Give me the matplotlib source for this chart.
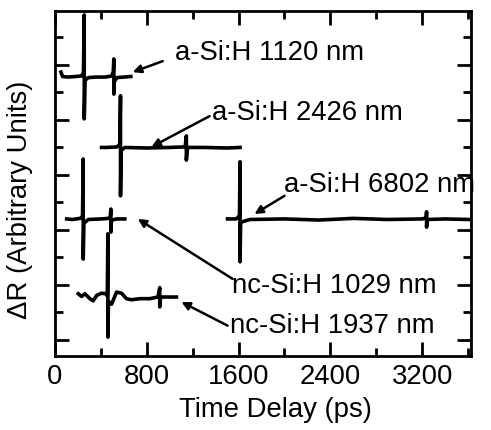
import numpy as np
import matplotlib
matplotlib.use('Agg')
import matplotlib.pyplot as plt
from matplotlib.ticker import MultipleLocator, NullFormatter

# ── traces (time in ps, offset dR in arbitrary units) ──
t_a1120 = [52, 66, 110, 180, 230, 248, 255, 255, 262, 290, 360, 440, 495, 508, 513, 513, 518, 540, 600, 661]
r_a1120 = [5.87, 5.79, 5.78, 5.79, 5.80, 5.86, 6.91, 5.02, 5.72, 5.77, 5.78, 5.78, 5.80, 5.88, 6.11, 5.47, 5.70, 5.77, 5.78, 5.79]

t_a2426 = [406, 450, 540, 565, 571, 571, 577, 610, 800, 1000, 1135, 1145, 1145, 1155, 1300, 1500, 1613]
r_a2426 = [4.50, 4.50, 4.51, 4.56, 5.44, 3.62, 4.45, 4.50, 4.49, 4.50, 4.51, 4.71, 4.27, 4.50, 4.50, 4.49, 4.50]

t_nc1029 = [102, 150, 220, 240, 246, 246, 252, 290, 400, 470, 482, 487, 487, 492, 540, 609]
r_nc1029 = [3.20, 3.19, 3.21, 3.25, 4.29, 2.47, 3.12, 3.19, 3.20, 3.21, 3.25, 3.38, 2.96, 3.18, 3.20, 3.20]

t_a6802 = [1504, 1580, 1608, 1613, 1613, 1618, 1700, 2000, 2300, 2600, 2900, 3200, 3235, 3239, 3239, 3243, 3400, 3609]
r_a6802 = [3.20, 3.20, 3.26, 4.24, 2.42, 3.14, 3.19, 3.20, 3.18, 3.21, 3.19, 3.20, 3.22, 3.33, 3.05, 3.19, 3.20, 3.19]

t_nc1937 = [203, 232, 261, 304, 333, 363, 406, 443, 456, 461, 461, 466, 493, 537, 580, 623, 667, 739, 826, 898, 913, 913, 920, 971, 1058]
r_nc1937 = [1.84, 1.79, 1.84, 1.75, 1.71, 1.81, 1.85, 1.84, 1.80, 2.93, 1.05, 1.70, 1.65, 1.87, 1.85, 1.75, 1.73, 1.75, 1.75, 1.78, 1.95, 1.60, 1.78, 1.78, 1.78]

# labels: text anchor, arrow tail, arrow head
labels   = ['a-Si:H 1120 nm', 'a-Si:H 2426 nm', 'a-Si:H 6802 nm', 'nc-Si:H 1029 nm', 'nc-Si:H 1937 nm']
text_xy  = [(1043, 6.24), (1365, 5.15), (2000, 3.84), (1539, 2.00), (1522, 1.27)]
tail_xy  = [(939, 6.07), (1348, 5.07), (2000, 3.62), (1548, 2.11), (1504, 1.26)]
head_xy  = [(678, 5.87), (841, 4.51), (1739, 3.29), (722, 3.20), (1102, 1.69)]

plt.rcParams.update({'font.family': 'Liberation Sans', 'font.size': 19.8})

fig = plt.figure(figsize=(4.91, 4.31), dpi=100)
ax = fig.add_axes([0.112, 0.172, 0.847, 0.800])

for t, r in [(t_a1120, r_a1120), (t_a2426, r_a2426), (t_nc1029, r_nc1029),
             (t_a6802, r_a6802), (t_nc1937, r_nc1937)]:
    ax.plot(t, r, 'k-', lw=2.6, solid_joinstyle='round')

for lbl, txy, tl, hd in zip(labels, text_xy, tail_xy, head_xy):
    ax.text(txy[0], txy[1], lbl, ha='left', va='center')
    ax.annotate('', xy=hd, xytext=tl,
                arrowprops=dict(arrowstyle='-|>', color='k', lw=1.8,
                                mutation_scale=12, shrinkA=0, shrinkB=0))

ax.set_xlim(0, 3625)
ax.set_ylim(0.71, 6.98)
ax.xaxis.set_major_locator(MultipleLocator(800))
ax.xaxis.set_minor_locator(MultipleLocator(400))
ax.yaxis.set_major_locator(MultipleLocator(1))
ax.yaxis.set_minor_locator(MultipleLocator(0.5))
ax.yaxis.set_major_formatter(NullFormatter())
ax.tick_params(which='both', direction='in', top=True, right=True, width=2)
ax.tick_params(which='major', length=10)
ax.tick_params(which='minor', length=5.5)
ax.tick_params(axis='x', pad=5)
for s in ax.spines.values():
    s.set_linewidth(2)

ax.set_xlabel('Time Delay (ps)')
ax.set_ylabel('ΔR (Arbitrary Units)')
ax.xaxis.set_label_coords(0.529, -0.115)
ax.yaxis.set_label_coords(-0.053, 0.455)

fig.savefig('out.png', dpi=100)
